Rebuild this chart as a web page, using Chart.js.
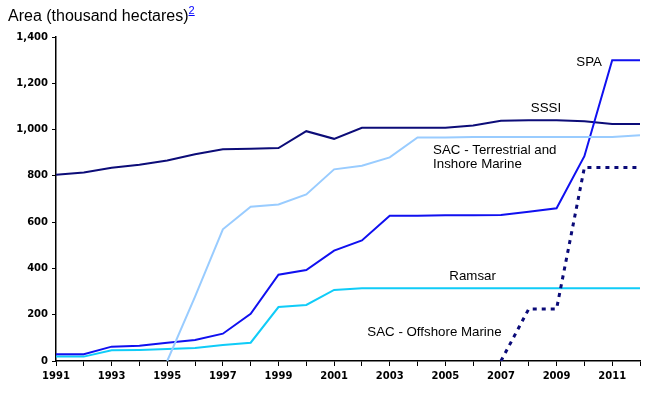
<!DOCTYPE html>
<html lang="en">
<head>
    <meta charset="UTF-8">
    <title>Protected area over time</title>
    <script src="https://cdn.jsdelivr.net/npm/chart.js"></script>
    <style>
        body { margin: 0; background: #fff; }
        #wrap { position: relative; width: 661px; height: 395px; }
        #title {
            position: absolute; left: 8px; top: 4px;
            font: 16px "Liberation Sans", Arial, sans-serif; color: #000;
        }
        #title sup { font-size: 11px; vertical-align: 7px; }
        #title a { color: #0000ff; text-decoration: underline; }
    </style>
</head>
<body>
    <div id="wrap">
        <canvas id="chart"></canvas>
        <div id="title">Area (thousand hectares)<sup><a href="#">2</a></sup></div>
    </div>

    <script>
        const years = [1991, 1992, 1993, 1994, 1995, 1996, 1997, 1998, 1999, 2000, 2001,
                       2002, 2003, 2004, 2005, 2006, 2007, 2008, 2009, 2010, 2011, 2012];

        const sssi = [805, 815, 835, 848, 866, 893, 915, 917, 920, 993, 960,
                      1008, 1008, 1008, 1008, 1018, 1038, 1040, 1040, 1036, 1024, 1024];
        const spa = [29, 29, 62, 66, 79, 91, 118, 204, 373, 393, 477,
                     521, 628, 628, 630, 630, 631, 645, 660, 885, 1300, 1300];
        const ramsar = [19, 19, 46, 48, 52, 56, 69, 79, 233, 242, 307,
                        314, 314, 314, 314, 314, 314, 314, 314, 314, 314, 314];
        const sacTerrestrial = [null, null, null, null, 0, 278, 569, 667, 676, 720, 828,
                                844, 880, 966, 966, 968, 968, 968, 968, 968, 968, 975];
        const sacOffshore = [null, null, null, null, null, null, null, null, null, null, null,
                             null, null, null, null, null, 0, 225, 225, 836, 836, 836];

        const yTicks = [0, 200, 400, 600, 800, 1000, 1200, 1400];

        // series labels: [text, year, value, align]
        const seriesLabels = [
            ['SPA', 2010.17, 1292, 'center'],
            ['SSSI', 2008.62, 1093, 'center'],
            ['SAC - Terrestrial and', 2004.56, 912, 'left'],
            ['Inshore Marine', 2004.56, 851, 'left'],
            ['Ramsar', 2005.98, 367, 'center'],
            ['SAC - Offshore Marine', 2004.61, 125, 'center']
        ];

        const toPoints = vals => years.map((y, i) => ({ x: y, y: vals[i] }));

        const labelPlugin = {
            id: 'seriesLabels',
            afterDatasetsDraw(chart) {
                const ctx = chart.ctx;
                const xs = chart.scales.x, ys = chart.scales.y;
                ctx.save();
                ctx.font = '13.3px "Liberation Sans", Arial, sans-serif';
                ctx.fillStyle = '#000';
                ctx.textBaseline = 'middle';
                seriesLabels.forEach(([text, yr, val, align]) => {
                    ctx.textAlign = align;
                    ctx.fillText(text, xs.getPixelForValue(yr), ys.getPixelForValue(val));
                });
                ctx.restore();
            }
        };

        const tickFont = { family: '"DejaVu Sans", sans-serif', size: 10, weight: 'bold' };

        new Chart(document.getElementById('chart'), {
            type: 'line',
            data: {
                datasets: [
                    { label: 'SAC - Offshore Marine', data: toPoints(sacOffshore), borderColor: '#0a0a78',
                      borderWidth: 3, borderDash: [4, 5] },
                    { label: 'SAC - Terrestrial and Inshore Marine', data: toPoints(sacTerrestrial),
                      borderColor: '#99ccff', borderWidth: 2 },
                    { label: 'SPA', data: toPoints(spa), borderColor: '#1010f0', borderWidth: 2 },
                    { label: 'Ramsar', data: toPoints(ramsar), borderColor: '#10ccf8', borderWidth: 2 },
                    { label: 'SSSI', data: toPoints(sssi), borderColor: '#0c0c78', borderWidth: 2 }
                ]
            },
            options: {
                responsive: true,
                maintainAspectRatio: false,
                animation: false,
                elements: { point: { radius: 0 }, line: { tension: 0, borderCapStyle: 'butt' } },
                layout: { padding: { top: 37, right: 21, left: 0, bottom: 0 } },
                plugins: { legend: { display: false }, tooltip: { enabled: false } },
                scales: {
                    x: {
                        type: 'linear',
                        min: 1991,
                        max: 2012,
                        afterBuildTicks: s => { s.ticks = years.map(v => ({ value: v })); },
                        afterFit: s => { s.height = 34; },
                        border: { color: '#000', width: 1.5 },
                        grid: { drawOnChartArea: false, color: '#000', tickLength: 5, lineWidth: 1 },
                        ticks: {
                            color: '#000',
                            font: tickFont,
                            padding: 4,
                            maxRotation: 0,
                            autoSkip: false,
                            callback: v => (v % 2 === 1 ? String(v) : '')
                        }
                    },
                    y: {
                        min: 0,
                        max: 1400,
                        afterBuildTicks: s => { s.ticks = yTicks.map(v => ({ value: v })); },
                        afterFit: s => { s.width = 56; },
                        border: { color: '#000', width: 1.5 },
                        grid: { drawOnChartArea: false, color: '#000', tickLength: 4, lineWidth: 1 },
                        ticks: {
                            color: '#000',
                            font: tickFont,
                            padding: 4,
                            callback: v => v.toLocaleString('en-US')
                        }
                    }
                }
            },
            plugins: [labelPlugin]
        });
    </script>
</body>
</html>
